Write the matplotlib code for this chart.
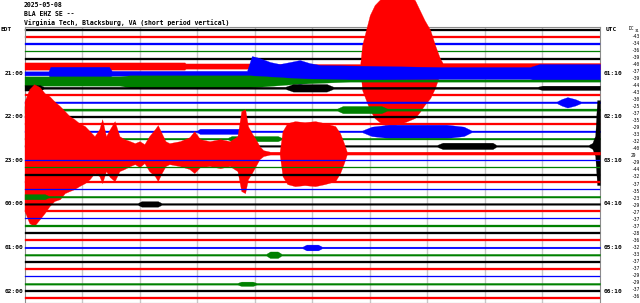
import matplotlib
matplotlib.use("Agg")
import numpy as np
import matplotlib.pyplot as plt
from matplotlib.transforms import blended_transform_factory

# --- header text ---
date_str = "2025-05-08"
station = "BLA EHZ SE --"
site = "Virginia Tech, Blacksburg, VA (short period vertical)"

n_lines = 38            # 10-minute lines, first one starts 20:00 EDT
left_labels = ["EDT", "21:00", "22:00", "23:00", "00:00", "01:00", "02:00"]
right_labels = ["UTC", "01:10", "02:10", "03:10", "04:10", "05:10", "06:10"]
label_lines = [0, 6, 12, 18, 24, 30, 36]
dc_values = [-43, -34, -36, -39, -40, -37, -39, -44, -43, -30, -25, -37, -35,
             -29, -33, -32, -40, 29, -29, -44, -32, -37, -35, -23, -29, -27,
             -37, -37, -28, -36, -32, -33, -37, -37, -29, -29, -37, -36]

quiet = 0.11   # background noise half-amplitude (line spacing units)

# --- envelopes (seconds into line, half amplitude up / down) ---
# 20:50 EDT line (red) - local event at ~6 min
r2050_sec = [0, 167, 168, 235, 236, 350, 352, 356, 360, 365, 370, 376, 386, 397,
             407, 412, 417, 423, 428, 433, 436, 600]
r2050_up = [0.50, 0.50, 0.36, 0.36, 0.28, 0.28, 2.89, 4.96, 7.02, 8.40, 9.09,
            9.78, 9.78, 9.78, 9.09, 7.71, 6.34, 4.96, 2.89, 1.10, 0.42, 0.42]
r2050_dn = [0.50, 0.50, 0.36, 0.36, 0.28, 0.28, 3.31, 4.68, 6.06, 7.16, 7.71,
            8.13, 8.13, 7.71, 7.16, 6.34, 5.37, 4.41, 3.03, 1.10, 0.42, 0.42]

# 21:00 EDT line (blue)
b2100_sec = [0, 25, 27, 88, 91, 232, 237, 245, 256, 266, 277, 287, 297, 308,
             433, 527, 537, 600]
b2100_up = [0.28, 0.28, 0.90, 0.90, 0.34, 0.34, 2.38, 2.11, 1.56, 1.28, 1.56,
            1.83, 1.42, 1.14, 0.87, 0.87, 1.28, 1.28]
b2100_dn = [0.28, 0.28, 0.60, 0.60, 0.34, 0.34, 1.61, 1.75, 1.47, 1.20, 1.20,
            1.47, 1.20, 0.92, 0.79, 0.79, 1.06, 1.06]

# 21:10 EDT line (green)
g2110_sec = [0, 99, 110, 235, 287, 339, 600]
g2110_up = [0.58, 0.58, 0.72, 0.72, 0.30, 0.15, 0.15]
g2110_dn = [0.70, 0.70, 0.95, 0.95, 0.42, 0.15, 0.15]

# 21:20 EDT line (black)
k2120_sec = [0, 16, 20, 272, 280, 315, 322, 535, 540, 600]
k2120_amp = [0.38, 0.38, 0.15, 0.15, 0.52, 0.52, 0.15, 0.15, 0.30, 0.30]

# 21:40 EDT line (blue)
b2140_sec = [0, 555, 560, 566, 574, 580, 600]
b2140_amp = [0.12, 0.12, 0.45, 0.72, 0.45, 0.12, 0.12]

# 21:50 EDT line (green)
g2150_sec = [0, 16, 20, 326, 332, 372, 378, 600]
g2150_amp = [0.50, 0.50, 0.15, 0.15, 0.50, 0.50, 0.15, 0.15]

# 22:20 EDT line (blue)
b2220_sec = [0, 180, 183, 233, 236, 352, 362, 380, 440, 458, 466, 600]
b2220_amp = [0.12, 0.12, 0.36, 0.36, 0.12, 0.12, 0.65, 0.92, 0.92, 0.65, 0.12, 0.12]

# 22:30 EDT line (green)
g2230_sec = [0, 212, 216, 264, 268, 600]
g2230_amp = [0.12, 0.12, 0.36, 0.36, 0.12, 0.12]

# 22:40 EDT line (black) - onset of the big event at the very end
k2240_sec = [0, 430, 436, 488, 492, 588, 592, 595, 597, 600]
k2240_up = [0.12, 0.12, 0.44, 0.44, 0.12, 0.12, 0.4, 1.4, 6.3, 6.3]
k2240_dn = [0.12, 0.12, 0.44, 0.44, 0.12, 0.12, 0.4, 1.4, 5.4, 5.4]

# 22:50 EDT line (red) - big event
r2250_sec = [0, 5, 10, 16, 21, 26, 31, 37, 42, 47, 52, 57, 63, 68, 73, 78, 81,
             85, 89, 94, 99, 104, 110, 115, 120, 125, 130, 136, 139, 143, 147,
             151, 162, 172, 177, 183, 193, 204, 214, 222, 226, 230, 233, 237,
             241, 245, 249, 256, 266, 269, 274, 282, 292, 303, 313, 324, 329,
             333, 336, 600]
r2250_up = [7.16, 8.82, 9.50, 9.09, 8.26, 7.85, 7.16, 6.47, 5.79, 5.10,
            4.68, 4.13, 3.72, 3.03, 2.34, 3.31, 4.68, 2.34, 3.31, 4.41,
            2.34, 1.93, 1.65, 1.38, 1.65, 1.24, 2.34, 3.31, 3.86, 2.75,
            1.65, 1.38, 1.65, 2.20, 3.03, 1.93, 1.65, 1.93, 1.65, 2.34,
            5.79, 6.06, 3.72, 2.75, 1.93, 0.96, 0.41, 0.20, 0.20, 3.03,
            4.13, 4.41, 4.27, 4.41, 4.13, 3.72, 2.75, 1.38, 0.20, 0.20]
r2250_dn = [7.99, 9.64, 10.06, 9.09, 8.26, 7.30, 6.61, 6.34, 5.51, 5.23,
            4.96, 4.55, 4.13, 3.58, 2.75, 3.17, 4.13, 2.48, 3.31, 3.86,
            2.48, 2.20, 1.79, 1.52, 1.93, 1.38, 2.48, 3.17, 3.86, 2.75,
            1.79, 1.52, 1.79, 2.20, 2.75, 1.93, 1.79, 2.07, 1.79, 2.48,
            5.23, 5.51, 3.58, 2.75, 1.79, 0.83, 0.41, 0.20, 0.20, 3.17,
            4.27, 4.55, 4.41, 4.55, 4.27, 3.86, 2.75, 1.38, 0.20, 0.20]

# small bursts later on
g2350_sec = [0, 21, 25, 600]
g2350_amp = [0.36, 0.36, 0.12, 0.12]
k0000_sec = [0, 118, 122, 139, 143, 600]
k0000_amp = [0.12, 0.12, 0.38, 0.38, 0.12, 0.12]
b0100_sec = [0, 290, 294, 306, 310, 600]
b0100_amp = [0.12, 0.12, 0.40, 0.40, 0.12, 0.12]
g0110_sec = [0, 252, 256, 264, 268, 600]
g0110_amp = [0.12, 0.12, 0.45, 0.45, 0.12, 0.12]
g0150_sec = [0, 222, 226, 238, 242, 600]
g0150_amp = [0.12, 0.12, 0.30, 0.30, 0.12, 0.12]

envelopes = {
    5: (r2050_sec, r2050_up, r2050_dn),
    6: (b2100_sec, b2100_up, b2100_dn),
    7: (g2110_sec, g2110_up, g2110_dn),
    8: (k2120_sec, k2120_amp, k2120_amp),
    10: (b2140_sec, b2140_amp, b2140_amp),
    11: (g2150_sec, g2150_amp, g2150_amp),
    14: (b2220_sec, b2220_amp, b2220_amp),
    15: (g2230_sec, g2230_amp, g2230_amp),
    16: (k2240_sec, k2240_up, k2240_dn),
    17: (r2250_sec, r2250_up, r2250_dn),
    23: (g2350_sec, g2350_amp, g2350_amp),
    24: (k0000_sec, k0000_amp, k0000_amp),
    30: (b0100_sec, b0100_amp, b0100_amp),
    31: (g0110_sec, g0110_amp, g0110_amp),
    35: (g0150_sec, g0150_amp, g0150_amp),
}

colors = ["#000000", "#ff0000", "#0000ff", "#008000"]
W, H = 640, 303

fig = plt.figure(figsize=(6.4, 3.03), dpi=100)
ax = fig.add_axes([24.5 / W, 0, 575.5 / W, 276 / H])
ax.set_xlim(0, 600)
ax.set_ylim(37.65, -0.38)
ax.set_xticks([])
ax.set_yticks([])
for s in ax.spines.values():
    s.set_color("#8c8c8c")
    s.set_linewidth(0.8)

ax.vlines(np.arange(60, 600, 60), -0.38, 37.65, color="#c8c8c8", lw=1.0, zorder=0)

for i in range(n_lines):
    c = colors[i % 4]
    if i in envelopes:
        sec, up, dn = envelopes[i]
        sec = np.array(sec, float)
        up = np.array(up)
        dn = np.array(dn)
    else:
        sec = np.array([0.0, 600.0])
        up = dn = np.array([quiet, quiet])
    ax.fill_between(sec, i - up, i + dn, color=c, lw=0.2, edgecolor=c,
                    clip_on=False, zorder=1 + i)

mono = "DejaVu Sans Mono"
for k, s in enumerate([date_str, station, site]):
    fig.text(24 / W, 1 - (5 + 8.6 * k) / H, s, family=mono, weight="bold",
             fontsize=4.7, ha="left", va="center")

tr_left = blended_transform_factory(fig.transFigure, ax.transData)
for lab, ln in zip(left_labels, label_lines):
    if lab == "EDT":
        ax.text(0.5 / W, ln, lab, transform=tr_left, family=mono, weight="bold",
                fontsize=4.4, ha="left", va="center")
    else:
        ax.text(23 / W, ln, lab, transform=tr_left, family=mono, weight="bold",
                fontsize=4.4, ha="right", va="center")
for lab, ln in zip(right_labels, label_lines):
    x0 = 606 if lab == "UTC" else 603.5
    ax.text(x0 / W, ln, lab, transform=tr_left, family=mono, weight="bold",
            fontsize=4.4, ha="left", va="center")

fig.text(629 / W, 1 - 28 / H, "DC", family=mono, fontsize=3.3, ha="left", va="center")
fig.text(634.5 / W, 1 - 30.5 / H, "31", family=mono, fontsize=2.8, ha="left", va="center")
for k, v in enumerate(dc_values):
    fig.text(631 / W, 1 - (36 + 7.05 * k) / H, str(v), family=mono,
             fontsize=3.3, ha="left", va="center")

fig.savefig("out.png", dpi=100)
